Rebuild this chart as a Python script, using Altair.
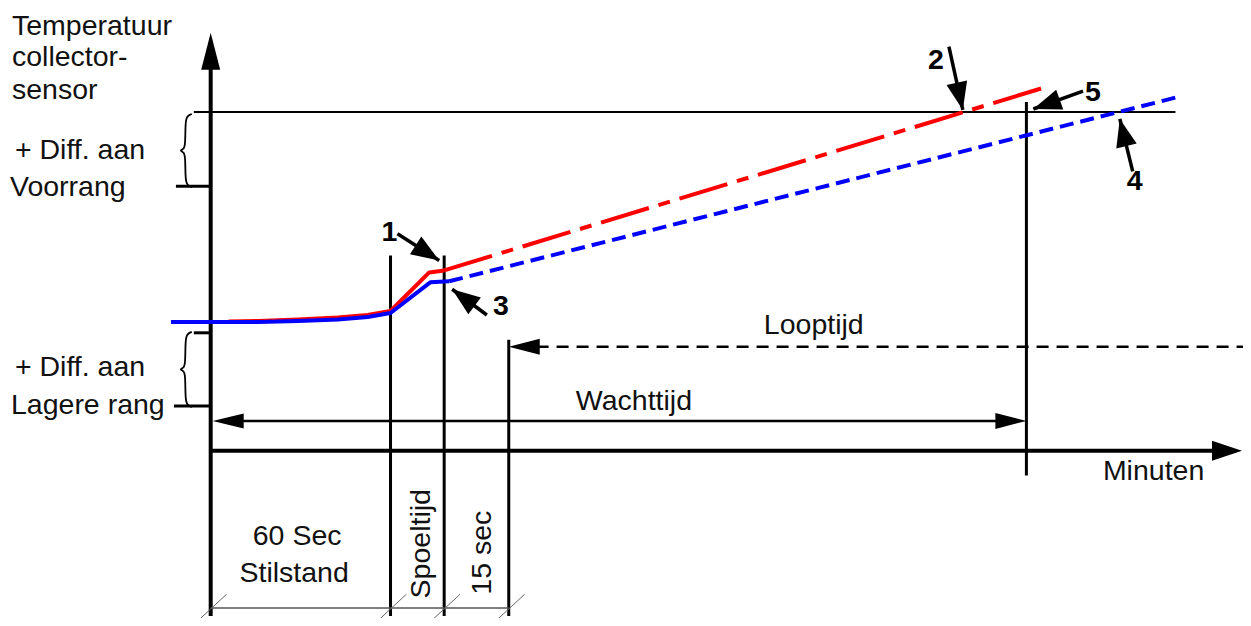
import math
import altair as alt
import pandas as pd

# ---------------- data (diagram units = reference pixel grid) ----------------
# main axes (x1, y1, x2, y2)
axis_x1 = [212, 212]
axis_y1 = [622, 455]
axis_x2 = [212, 1222]
axis_y2 = [68, 455]

# vertical phase markers
guide_x = [393, 447, 512, 1033]
guide_top = [258, 258, 343, 103]
guide_bottom = [622, 622, 622, 480]

# threshold line (upper switch level)
thr_y = 113
thr_x = [195, 1183]

# small ticks on the temperature axis
tick_y = [188, 336, 410]
tick_x1 = [177, 195, 175]
tick_x2 = [212, 212, 212]

# Wachttijd / Looptijd spans
wacht_y = 425
wacht_x = [240, 1005]
loop_y = 350
loop_x = [540, 1251]

# bottom dimension line + slashes
dim_y = 614
dim_x = [212, 512]
slash_x = [212, 393, 447, 512]

# temperature curves
red_solid_x = [230, 260, 300, 340, 370, 393, 432, 447]
red_solid_y = [324.5, 324, 322.5, 320.5, 318, 314, 275, 273]
red_dash_x = [447, 1052]
red_dash_y = [273, 88]
blue_solid_x = [172, 212, 260, 300, 340, 370, 393, 433, 452]
blue_solid_y = [325, 325, 325, 324, 322.5, 320, 316, 285, 284]
blue_dash_x = [452, 1185]
blue_dash_y = [284, 98]

# braces (top, bottom)
brace_top = [115, 335]
brace_bottom = [189, 411]

# numbered callouts: label, label x, label baseline, arrow tail, arrow tip
call_label = ["1", "2", "3", "4", "5"]
call_tx = [392, 942, 504, 1142, 1100]
call_ty = [243, 70, 318, 192, 102]
call_tail_x = [400, 955, 490, 1140, 1090]
call_tail_y = [236, 47, 318, 173, 92]
call_tip_x = [442, 969, 455, 1127, 1040]
call_tip_y = [263, 111, 292, 120, 110]

# other arrowheads: tip x, tip y, dx, dy, length, half width
head_x = [212, 1250, 214, 1033, 512]
head_y = [33, 455, 425, 425, 350]
head_dx = [0, 1, -1, 1, -1]
head_dy = [-1, 0, 0, 0, 0]
head_len = [37, 30, 31, 31, 31]
head_w = [9.5, 10, 7.5, 8, 8]

# texts
left_text = ["Temperatuur", "collector-", "sensor", "+ Diff. aan", "Voorrang",
             "+ Diff. aan", "Lagere rang"]
left_x = [12, 12, 12, 15, 10, 15, 11]
left_y = [35, 67, 100, 160, 198, 380, 418]
center_text = ["Looptijd", "Wachttijd", "Minuten", "60 Sec", "Stilstand"]
center_x = [819, 638, 1161, 299, 296]
center_y = [337, 414, 485, 550, 588]
rot_text = ["Spoeltijd", "15 sec"]
rot_x = [433, 494]
rot_y = [549, 558]

# ---------------- build tables ----------------
segs = []
for a, b, c, d in zip(axis_x1, axis_y1, axis_x2, axis_y2):
    segs.append(dict(x=a, y=b, x2=c, y2=d, w=4, c="black"))
for gx, gt, gb in zip(guide_x, guide_top, guide_bottom):
    segs.append(dict(x=gx, y=gt, x2=gx, y2=gb, w=3, c="black"))
segs.append(dict(x=thr_x[0], y=thr_y, x2=thr_x[1], y2=thr_y, w=2, c="black"))
for ty, a, b in zip(tick_y, tick_x1, tick_x2):
    segs.append(dict(x=a, y=ty, x2=b, y2=ty, w=3, c="black"))
segs.append(dict(x=wacht_x[0], y=wacht_y, x2=wacht_x[1], y2=wacht_y, w=2.5, c="black"))
segs.append(dict(x=dim_x[0], y=dim_y, x2=dim_x[1], y2=dim_y, w=1.5, c="#555555"))
for sx in slash_x:
    segs.append(dict(x=sx - 12, y=626, x2=sx + 16, y2=600, w=1, c="#666666"))
for tx, ty, hx, hy in zip(call_tail_x, call_tail_y, call_tip_x, call_tip_y):
    segs.append(dict(x=tx, y=ty, x2=hx, y2=hy, w=3.5, c="black"))
seg_df = pd.DataFrame(segs)

loop_df = pd.DataFrame([dict(x=loop_x[0], y=loop_y, x2=loop_x[1], y2=loop_y)])

heads = []
def add_head(x, y, dx, dy, L, W):
    ang = math.degrees(math.atan2(dx, -dy)) % 360
    heads.append(dict(x=x, y=y, ang=ang,
                      shape=f"M0,0L{-W},{L}L{W},{L}Z"))
for x, y, dx, dy, L, W in zip(head_x, head_y, head_dx, head_dy, head_len, head_w):
    add_head(x, y, dx, dy, L, W)
for tx, ty, hx, hy in zip(call_tail_x, call_tail_y, call_tip_x, call_tip_y):
    add_head(hx, hy, hx - tx, hy - ty, 28, 10.5)
head_df = pd.DataFrame(heads)

def line_df(xs, ys, name):
    return pd.DataFrame(dict(x=xs, y=ys, s=name, i=range(len(xs))))

red_s = line_df(red_solid_x, red_solid_y, "r")
red_d = line_df(red_dash_x, red_dash_y, "r")
blue_s = line_df(blue_solid_x, blue_solid_y, "b")
blue_d = line_df(blue_dash_x, blue_dash_y, "b")

brace_rows = []
for k, (t, b) in enumerate(zip(brace_top, brace_bottom)):
    m = (t + b) / 2
    pts = [(193, t), (188.5, t + 2), (186.5, t + 7), (186.5, m - 6), (185, m - 1.5),
           (180.5, m), (185, m + 1.5), (186.5, m + 6), (186.5, b - 7), (188.5, b - 2), (193, b)]
    for i, (px, py) in enumerate(pts):
        brace_rows.append(dict(x=px, y=py, b=k, i=i))
brace_df = pd.DataFrame(brace_rows)

left_df = pd.DataFrame(dict(x=left_x, y=left_y, t=left_text))
center_df = pd.DataFrame(dict(x=center_x, y=center_y, t=center_text))
rot_df = pd.DataFrame(dict(x=rot_x, y=rot_y, t=rot_text))
call_df = pd.DataFrame(dict(x=call_tx, y=call_ty, t=call_label))

# ---------------- chart ----------------
W, H = 1235, 610
xs = alt.Scale(domain=[8, 1251], nice=False, zero=False)
ys = alt.Scale(domain=[624, 8], nice=False, zero=False)
X = lambda f="x": alt.X(f"{f}:Q", scale=xs, axis=None)
Y = lambda f="y": alt.Y(f"{f}:Q", scale=ys, axis=None)
FONT = "Liberation Sans"
FS = 28.5

rules = alt.Chart(seg_df).mark_rule(strokeCap="butt").encode(
    x=X(), y=Y(), x2="x2:Q", y2="y2:Q",
    strokeWidth=alt.StrokeWidth("w:Q", scale=None),
    color=alt.Color("c:N", scale=None))

loop = alt.Chart(loop_df).mark_rule(strokeCap="butt", strokeWidth=2.5, color="black",
                                    strokeDash=[12, 8]).encode(
    x=X(), y=Y(), x2="x2:Q", y2="y2:Q")

def curve(df, color, dash=None):
    kw = dict(color=color, strokeWidth=4, strokeJoin="round")
    if dash:
        kw["strokeDash"] = dash
    return alt.Chart(df).mark_line(**kw).encode(x=X(), y=Y(), order="i:Q")

red1 = curve(red_s, "#ff0000")
red2 = curve(red_d, "#ff0000", [50, 10, 12, 10])
blue1 = curve(blue_s, "#0000ff")
blue2 = curve(blue_d, "#0000ff", [14, 7])

braces = alt.Chart(brace_df).mark_line(color="black", strokeWidth=1.8, interpolate="basis").encode(
    x=X(), y=Y(), detail="b:N", order="i:Q")

heads_l = alt.Chart(head_df).mark_point(filled=True, size=4, color="black", opacity=1,
                                        strokeWidth=0).encode(
    x=X(), y=Y(), shape=alt.Shape("shape:N", scale=None),
    angle=alt.Angle("ang:Q", scale=None))

txt_left = alt.Chart(left_df).mark_text(align="left", baseline="alphabetic", fontSize=FS,
                                        font=FONT, color="#111111").encode(x=X(), y=Y(), text="t:N")
txt_center = alt.Chart(center_df).mark_text(align="center", baseline="alphabetic", fontSize=FS,
                                            font=FONT, color="#111111").encode(x=X(), y=Y(), text="t:N")
txt_rot = alt.Chart(rot_df).mark_text(align="center", baseline="alphabetic", fontSize=FS,
                                      font=FONT, angle=270, color="#111111").encode(x=X(), y=Y(), text="t:N")
txt_call = alt.Chart(call_df).mark_text(align="center", baseline="alphabetic", fontSize=FS,
                                        font=FONT, fontWeight="bold", color="black").encode(
    x=X(), y=Y(), text="t:N")

chart = alt.layer(rules, loop, red1, red2, blue1, blue2, braces, heads_l,
                  txt_left, txt_center, txt_rot, txt_call).properties(
    width=W, height=H, padding=0, autosize=alt.AutoSizeParams(type="none"),
    background="white"
).configure_view(strokeWidth=0)

chart.save("out.html", embed_options={"renderer": "svg", "actions": False})
